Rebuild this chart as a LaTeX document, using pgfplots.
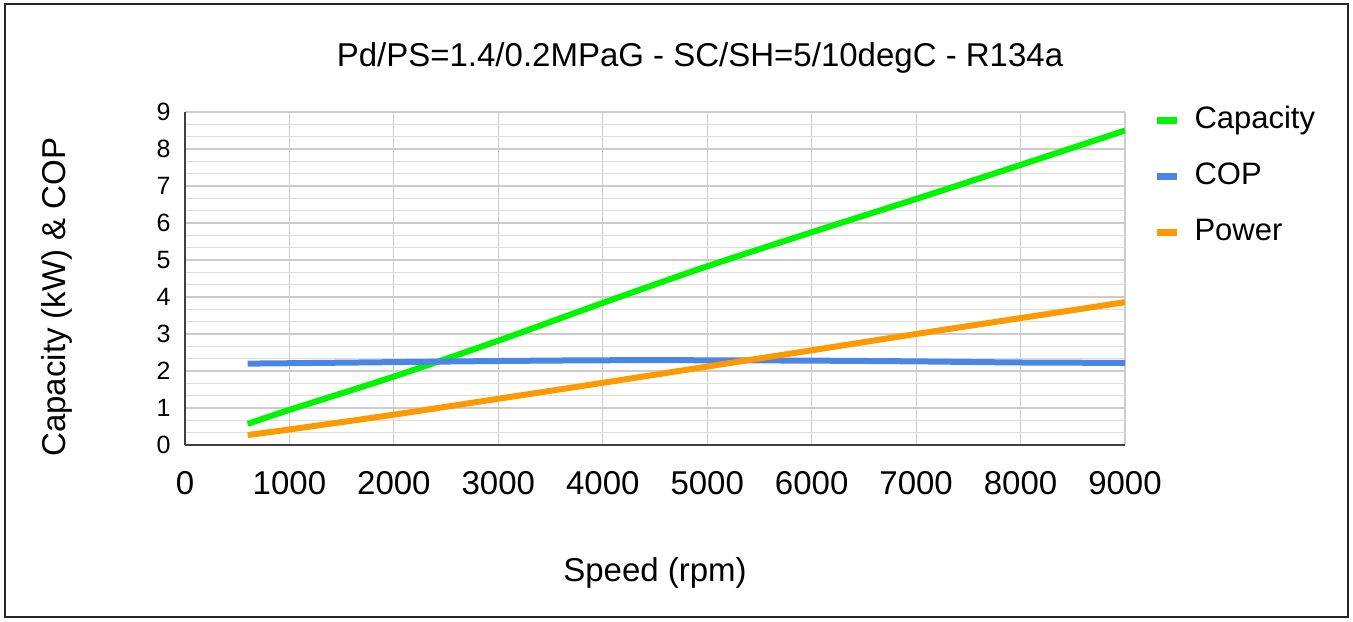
\documentclass[border=0pt]{standalone}
\usepackage{fontspec}
\setmainfont{Liberation Sans}
\usepackage{pgfplots}
\pgfplotsset{compat=1.18}
\definecolor{capgreen}{RGB}{0,245,0}
\definecolor{copblue}{RGB}{74,134,232}
\definecolor{poworange}{RGB}{255,153,0}
\begin{document}
\begin{tikzpicture}
\useasboundingbox (-92.5pt,-88pt) rectangle (584pt,222.5pt);
\draw[line width=0.8pt, draw=black!85] (-90pt,-86pt) rectangle (581.5pt,220.5pt);
\begin{axis}[
  at={(0pt,0pt)}, anchor=south west,
  scale only axis, width=470pt, height=166.5pt,
  xmin=0, xmax=9000, ymin=0, ymax=9,
  xtick={0,1000,...,9000}, ytick={0,1,...,9},
  minor y tick num=2,
  ymajorgrids, yminorgrids, xmajorgrids,
  major grid style={draw=black!20, line width=0.6pt},
  minor grid style={draw=black!13, line width=0.6pt},
  axis x line*=bottom, axis y line*=left,
  axis line style={draw=black!75, line width=0.9pt, -},
  major tick length=0pt, minor tick length=0pt,
  /pgf/number format/assume math mode=true,
  /pgf/number format/1000 sep={},
  xticklabel style={font=\fontsize{16.5}{18}\selectfont, anchor=center, inner sep=0pt, yshift=-19pt},
  yticklabel style={font=\fontsize{12.5}{14}\selectfont, anchor=east, inner sep=0pt, xshift=-7pt},
  legend style={at={(1.023,1.036)}, anchor=north west, draw=none, fill=none,
    font=\fontsize{15.5}{17}\selectfont, row sep=12pt,
    nodes={inner sep=0pt, text height=12pt, text depth=4pt}},
  legend cell align=left,
  legend image code/.code={\draw[#1, line width=3.5pt] (0pt,0pt) -- (10pt,0pt); \path (17.5pt,0pt);},
  every axis plot/.append style={line width=3pt, smooth},
]
\addplot[capgreen] coordinates {
  (600,0.57) (1000,0.95) (2000,1.85) (3000,2.82) (4000,3.84) (5000,4.83)
  (6000,5.75) (7000,6.65) (8000,7.57) (9000,8.5)
};
\addlegendentry{Capacity}
\addplot[copblue] coordinates {
  (600,2.2) (1000,2.21) (2000,2.24) (3000,2.27) (4000,2.29) (5000,2.29)
  (6000,2.28) (7000,2.26) (8000,2.23) (9000,2.22)
};
\addlegendentry{COP}
\addplot[poworange] coordinates {
  (600,0.27) (1000,0.42) (2000,0.82) (3000,1.25) (4000,1.68) (5000,2.12)
  (6000,2.56) (7000,3.0) (8000,3.43) (9000,3.86)
};
\addlegendentry{Power}
\end{axis}
\node[font=\fontsize{16.5}{18}\selectfont] at (257.5pt,193.5pt) {Pd/PS=1.4/0.2MPaG - SC/SH=5/10degC - R134a};
\node[font=\fontsize{16.5}{18}\selectfont] at (235pt,-64pt) {Speed (rpm)};
\node[font=\fontsize{16.5}{18}\selectfont, rotate=90] at (-64pt,74pt) {Capacity (kW) \& COP};
\end{tikzpicture}
\end{document}
